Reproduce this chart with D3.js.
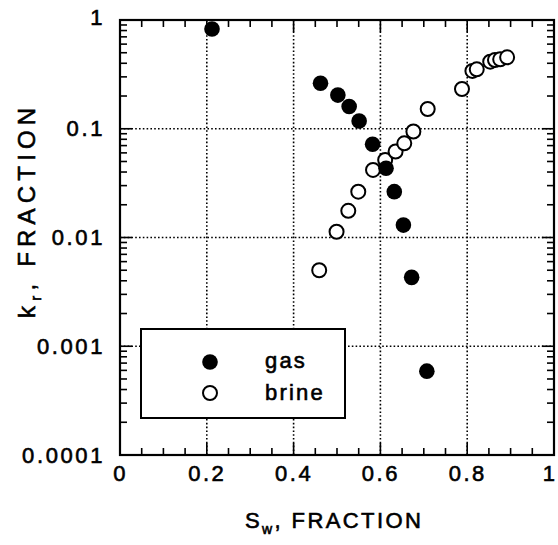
<!DOCTYPE html>
<html>
<head>
<meta charset="utf-8">
<script src="https://cdn.jsdelivr.net/npm/d3@7"></script>
<style>
  html, body { margin: 0; padding: 0; background: #fff; }
  svg { display: block; font-family: "Liberation Sans", Arial, Helvetica, sans-serif; }
</style>
</head>
<body>
<svg id="chart" width="558" height="545"></svg>
<script>
// ---- data ----
const gasSw   = [0.212, 0.462, 0.502, 0.528, 0.551, 0.582, 0.613, 0.632, 0.653, 0.672, 0.707];
const gasKr   = [0.826, 0.262, 0.204, 0.160, 0.118, 0.072, 0.0433, 0.0264, 0.0130, 0.0043, 0.00059];
const brineSw = [0.459, 0.499, 0.526, 0.549, 0.583, 0.611, 0.635, 0.655, 0.676, 0.709, 0.788, 0.812, 0.822, 0.853, 0.864, 0.876, 0.892];
const brineKr = [0.0050, 0.0113, 0.0176, 0.0264, 0.0418, 0.0516, 0.0618, 0.0735, 0.0944, 0.152, 0.232, 0.340, 0.352, 0.414, 0.428, 0.435, 0.454];
const xTicks  = [0, 0.2, 0.4, 0.6, 0.8, 1];
const xTickLabels = ["0", "0.2", "0.4", "0.6", "0.8", "1"];
const yTicks  = [1, 0.1, 0.01, 0.001, 0.0001];
const yTickLabels = ["1", "0.1", "0.01", "0.001", "0.0001"];
const legendLabels = ["gas", "brine"];

// ---- layout ----
const svg = d3.select("#chart");
const L = 120, R = 554, T = 20, B = 455;
const x = d3.scaleLinear().domain([0, 1]).range([L, R]);
const y = d3.scaleLog().domain([1e-4, 1]).range([B, T]);

const fontSize = 22;
const textStroke = 0.6;

function heavy(sel) {
  return sel.attr("fill", "#000").attr("stroke", "#000").attr("stroke-width", textStroke);
}

// gridlines (dotted)
const grid = svg.append("g");
grid.selectAll("line.gx").data(xTicks.slice(1, -1)).join("line")
  .attr("x1", d => x(d)).attr("x2", d => x(d))
  .attr("y1", T).attr("y2", B)
  .attr("stroke", "#000").attr("stroke-width", 1.6)
  .attr("stroke-dasharray", "1.6,2.2");
grid.selectAll("line.gy").data(yTicks.slice(1, -1)).join("line")
  .attr("x1", L).attr("x2", R)
  .attr("y1", d => y(d)).attr("y2", d => y(d))
  .attr("stroke", "#000").attr("stroke-width", 1.6)
  .attr("stroke-dasharray", "1.6,2.2");

// minor ticks
const xMinor = d3.range(0, 1.0001, 0.05);
const yMinor = [];
for (let e = -4; e < 0; e++) for (let m = 1; m <= 9; m++) yMinor.push(m * Math.pow(10, e));
yMinor.push(1);

const ticks = svg.append("g").attr("stroke", "#000").attr("stroke-width", 1.6);
xMinor.forEach(v => {
  const major = Math.abs(v * 5 - Math.round(v * 5)) < 1e-6;
  const len = major ? 12 : 7;
  ticks.append("line").attr("x1", x(v)).attr("x2", x(v)).attr("y1", B).attr("y2", B - len);
  ticks.append("line").attr("x1", x(v)).attr("x2", x(v)).attr("y1", T).attr("y2", T + len);
});
yMinor.forEach(v => {
  const major = Math.abs(Math.log10(v) - Math.round(Math.log10(v))) < 1e-6;
  const len = major ? 12 : 7;
  ticks.append("line").attr("x1", L).attr("x2", L + len).attr("y1", y(v)).attr("y2", y(v));
  ticks.append("line").attr("x1", R).attr("x2", R - len).attr("y1", y(v)).attr("y2", y(v));
});

// frame
svg.append("rect").attr("x", L).attr("y", T).attr("width", R - L).attr("height", B - T)
  .attr("fill", "none").attr("stroke", "#000").attr("stroke-width", 2.2);

// x tick labels via d3 axis
const xAxis = d3.axisBottom(x).tickValues(xTicks).tickFormat((d, i) => xTickLabels[i]).tickSize(0).tickPadding(10);
const gx = svg.append("g").attr("transform", `translate(0,${B})`).call(xAxis);
gx.select(".domain").remove();
heavy(gx.selectAll("text").attr("font-size", fontSize).attr("font-family", "Liberation Sans, Arial, sans-serif")
  .style("letter-spacing", "2.5px"));
gx.selectAll(".tick").filter(d => d === 1).select("text").attr("text-anchor", "end").attr("dx", 3);

// y tick labels via d3 axis
const yAxis = d3.axisLeft(y).tickValues(yTicks).tickFormat((d, i) => yTickLabels[i]).tickSize(0).tickPadding(15);
const gy = svg.append("g").attr("transform", `translate(${L},0)`).call(yAxis);
gy.select(".domain").remove();
heavy(gy.selectAll("text").attr("font-size", fontSize).attr("font-family", "Liberation Sans, Arial, sans-serif")
  .style("letter-spacing", "2.6px"));
gy.selectAll(".tick").filter(d => d === 1).select("text").attr("dy", "0.2em");

// axis titles
const xt = heavy(svg.append("text").attr("x", 245).attr("y", 528).attr("font-size", fontSize)
  .style("letter-spacing", "2.4px"));
xt.append("tspan").text("S");
xt.append("tspan").attr("font-size", 14).attr("dy", 6).text("w");
xt.append("tspan").attr("dy", -6).text(", FRACTION");

const yt = heavy(svg.append("text").attr("transform", "translate(35,318) rotate(-90)")
  .attr("font-size", 24).style("letter-spacing", "5.2px"));
yt.append("tspan").text("k");
yt.append("tspan").attr("font-size", 15).attr("dy", 6).text("r");
yt.append("tspan").attr("dy", -6).text(", FRACTION");

// data points
const gas = gasSw.map((s, i) => ({ s, k: gasKr[i] }));
const brine = brineSw.map((s, i) => ({ s, k: brineKr[i] }));
svg.append("g").selectAll("circle").data(brine).join("circle")
  .attr("cx", d => x(d.s)).attr("cy", d => y(d.k)).attr("r", 7)
  .attr("fill", "#fff").attr("stroke", "#000").attr("stroke-width", 2);
svg.append("g").selectAll("circle").data(gas).join("circle")
  .attr("cx", d => x(d.s)).attr("cy", d => y(d.k)).attr("r", 7.8)
  .attr("fill", "#000");

// legend
const lg = svg.append("g");
lg.append("rect").attr("x", 141).attr("y", 329).attr("width", 204).attr("height", 89)
  .attr("fill", "#fff").attr("stroke", "#000").attr("stroke-width", 2);
lg.append("circle").attr("cx", 210).attr("cy", 362).attr("r", 7.8).attr("fill", "#000");
lg.append("circle").attr("cx", 210).attr("cy", 393).attr("r", 7).attr("fill", "#fff")
  .attr("stroke", "#000").attr("stroke-width", 2);
heavy(lg.selectAll("text").data(legendLabels).join("text")
  .attr("x", 265).attr("y", (d, i) => i === 0 ? 368 : 400)
  .attr("font-size", fontSize).style("letter-spacing", "2.2px")
  .text(d => d));
</script>
</body>
</html>
